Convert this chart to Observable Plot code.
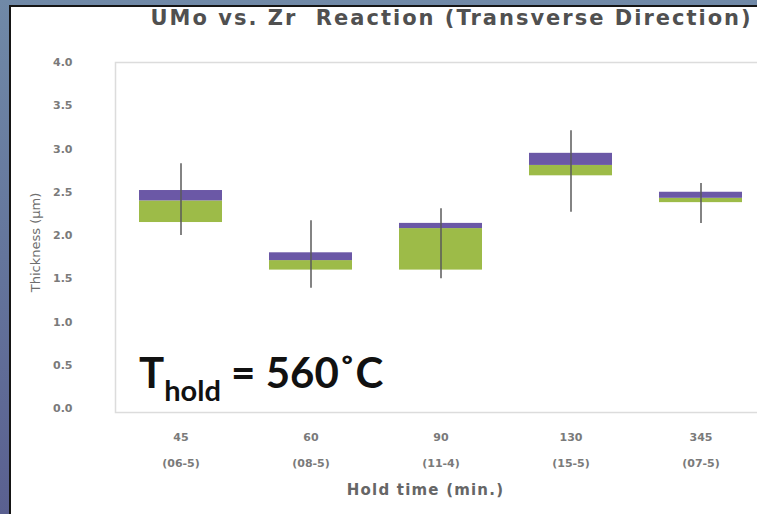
<!DOCTYPE html>
<html>
<head>
<meta charset="utf-8">
<script src="https://cdn.jsdelivr.net/npm/d3@7"></script>
<script src="https://cdn.jsdelivr.net/npm/@observablehq/plot@0.6"></script>
<style>
  html, body { margin: 0; padding: 0; width: 757px; height: 514px; overflow: hidden; }
  body { background: linear-gradient(to bottom, #7089a7 0%, #64759c 50%, #5a6090 100%); position: relative; }
  #panel { position: absolute; left: 9px; top: 5px; width: 800px; height: 600px; background: #fff;
           border-left: 2px solid #151515; border-top: 2px solid #151515; }
  #chart { position: absolute; left: 0; top: 0; width: 780px; height: 514px; }
  #chart svg { max-width: none !important; }
</style>
</head>
<body>
<div id="panel"></div>
<div id="chart"></div>
<script>
// Data
const holdTimes = ["45", "60", "90", "130", "345"];
const samples = ["(06-5)", "(08-5)", "(11-4)", "(15-5)", "(07-5)"];
const whiskerLow  = [2.00, 1.39, 1.50, 2.27, 2.14];
const boxLow      = [2.15, 1.60, 1.60, 2.69, 2.38];
const boxMid      = [2.40, 1.71, 2.08, 2.81, 2.43];
const boxHigh     = [2.52, 1.80, 2.14, 2.95, 2.50];
const whiskerHigh = [2.83, 2.17, 2.31, 3.21, 2.60];
const yTicks = [0, 0.5, 1, 1.5, 2, 2.5, 3, 3.5, 4];
const titleText = "UMo vs. Zr  Reaction (Transverse Direction)";
const yLabel = "Thickness (\u03bcm)";
const xLabel = "Hold time (min.)";

const rows = holdTimes.map((h, i) => ({
  key: h, sample: samples[i],
  wl: whiskerLow[i], bl: boxLow[i], bm: boxMid[i], bh: boxHigh[i], wh: whiskerHigh[i]
}));
const sampleOf = Object.fromEntries(rows.map(r => [r.key, r.sample]));

const purple = "#6b58a6";
const green = "#9dbb48";

const chart = Plot.plot({
  width: 780,
  height: 514,
  marginLeft: 116,
  marginRight: 14,
  marginTop: 62,
  marginBottom: 106,
  style: { background: "transparent", fontFamily: "DejaVu Sans", maxWidth: "none" },
  x: { type: "band", domain: holdTimes, paddingInner: 0.36, paddingOuter: 0.18 },
  y: { domain: [0, 4] },
  marks: [
    Plot.frame({ stroke: "#dcdcdc", strokeWidth: 1.5, insetBottom: -4, insetLeft: -1 }),
    Plot.barY(rows, { x: "key", y1: "bl", y2: "bm", fill: green }),
    Plot.barY(rows, { x: "key", y1: "bm", y2: "bh", fill: purple }),
    Plot.ruleX(rows, { x: "key", y1: "wl", y2: "wh", stroke: "#5a5a5a", strokeWidth: 1.5 }),
    Plot.axisY({ ticks: yTicks, tickFormat: d3.format(".1f"), tickSize: 0, tickPadding: 44,
                 fontSize: 11, fontWeight: "bold", fill: "#7a7a7a", label: null }),
    Plot.axisX({ tickFormat: d => d + "\n" + sampleOf[d], tickSize: 0, tickPadding: 15,
                 lineHeight: 2.3, fontSize: 11, fontWeight: "bold", fill: "#7a7a7a", label: null }),
    Plot.text([xLabel], { frameAnchor: "bottom", dx: -16, dy: 82, lineAnchor: "middle",
                          fontSize: 15, fontWeight: "bold", fill: "#666" }),
    Plot.text([yLabel], { frameAnchor: "left", dx: -81, dy: 7, rotate: -90, textAnchor: "middle",
                          lineAnchor: "middle", fontSize: 13, fill: "#6e6e6e" }),
    Plot.text([titleText], { frameAnchor: "top-left", dx: 34, dy: -44, textAnchor: "start",
                             lineAnchor: "middle", fontSize: 21, fontWeight: "bold", fill: "#505050" })
  ]
});

const svg = d3.select(chart);
// Widen title / axis label tracking to match reference
svg.selectAll("text").filter(function () { return this.textContent === titleText; })
  .attr("letter-spacing", "2px");
svg.selectAll("text").filter(function () { return this.textContent === xLabel; })
  .attr("letter-spacing", "1.2px");

// Annotation with subscript
const ann = svg.append("text")
  .attr("x", 139).attr("y", 388)
  .attr("text-anchor", "start")
  .attr("font-family", "Lato, 'Open Sans', sans-serif")
  .attr("font-weight", "bold")
  .attr("font-size", 42)
  .attr("fill", "#111");
ann.append("tspan").text("T");
ann.append("tspan").attr("dy", 13).attr("font-size", 29).text("hold");
ann.append("tspan").attr("dy", -13).text(" = 560\u02daC");

document.getElementById("chart").appendChild(chart);
</script>
</body>
</html>
